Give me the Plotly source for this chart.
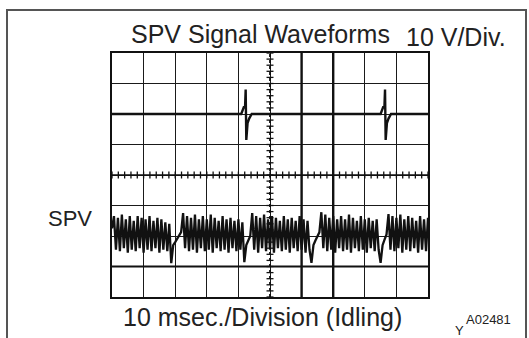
import numpy as np
import plotly.graph_objects as go

W, H = 529, 338

# ---- data (time in ms, amplitude in divisions; 10 V/div) ----
top_t = [0, 40.9, 41.8, 42.1, 42.3, 42.5, 42.9, 43.4, 44.2, 85.0, 85.9, 86.2, 86.4, 86.6, 87.0, 87.5, 88.3, 100]
top_v = [2.0, 2.0, 2.25, 2.2, 2.8, 1.15, 1.7, 1.85, 2.0, 2.0, 2.25, 2.2, 2.8, 1.15, 1.7, 1.85, 2.0, 2.0]

spv_step_ms = 0.625
spv_v = [
    -1.75, -1.35, -2.45, -1.40, -2.50, -1.30, -2.40, -1.45, -2.55, -1.35,
    -2.45, -1.50, -2.50, -1.35, -2.40, -1.40, -2.55, -1.45, -2.45, -1.35,
    -2.50, -1.50, -2.40, -1.40, -2.55, -1.45, -2.45, -1.55, -2.50, -1.60,
    -2.89, -2.30, -2.20, -2.08, -1.97, -1.87,
    -1.25, -2.40, -1.35, -2.50, -1.40, -2.45, -1.30, -2.55, -1.45, -2.40,
    -1.35, -2.50, -1.45, -2.45, -1.30, -2.55, -1.40, -2.40, -1.50, -2.50,
    -1.35, -2.45, -1.45, -2.55, -1.40, -2.40, -1.50, -2.50, -1.45, -2.45,
    -1.55,
    -2.86, -2.30, -2.15, -2.00,
    -1.25, -2.45, -1.35, -2.55, -1.40, -2.40, -1.30, -2.50, -1.45, -2.45,
    -1.35, -2.55, -1.40, -2.40, -1.50, -2.50, -1.35, -2.45, -1.45, -2.55,
    -1.40, -2.40, -1.50, -2.50, -1.35, -2.45, -1.45, -2.55, -1.50, -2.45,
    -2.88, -2.30, -2.15, -2.00, -1.88,
    -1.22, -2.40, -1.30, -2.50, -1.40, -2.45, -1.35, -2.55, -1.45, -2.40,
    -1.35, -2.50, -1.45, -2.45, -1.30, -2.55, -1.40, -2.40, -1.50, -2.50,
    -1.35, -2.45, -1.45, -2.55, -1.40, -2.40, -1.50, -2.50, -1.45, -2.45,
    -2.88, -2.30, -2.12, -1.95,
    -1.28, -2.45, -1.35, -2.50, -1.40, -2.40, -1.30, -2.55, -1.45, -2.45,
    -1.35, -2.50, -1.40, -2.40, -1.50, -2.55, -1.35, -2.45, -1.45, -2.50,
    -1.40,
]
spv_t = np.arange(len(spv_v)) * spv_step_ms

x_divs = 10   # 10 ms / div
y_divs = 8

# ---- layout geometry (pixels) ----
gx0, gx1, gy0, gy1 = 112, 428, 53, 297
def px(x): return x / W
def py(y): return 1 - y / H

fig = go.Figure()
fig.add_trace(go.Scatter(x=top_t, y=top_v, mode="lines",
                         line=dict(color="#111", width=2.4), hoverinfo="skip"))
fig.add_trace(go.Scatter(x=spv_t, y=spv_v, mode="lines",
                         line=dict(color="#111", width=2.3), hoverinfo="skip"))

# centre graticule tick marks (decoration)
hx = np.arange(0, 100.01, 2.0)
fig.add_trace(go.Scatter(x=hx, y=[0] * len(hx), mode="markers",
                         marker=dict(symbol="line-ns", size=5, line=dict(color="#111", width=1.3)),
                         hoverinfo="skip"))
vy = np.arange(-4, 4.01, 0.2)
fig.add_trace(go.Scatter(x=[50] * len(vy), y=vy, mode="markers",
                         marker=dict(symbol="line-ew", size=5, line=dict(color="#111", width=1.3)),
                         hoverinfo="skip"))

shapes = []
# outer frame
shapes.append(dict(type="rect", xref="paper", yref="paper",
                   x0=px(7), x1=px(526), y0=py(10), y1=py(360),
                   line=dict(color="#555", width=2)))
# heavier graticule lines
for xv in [60, 70]:
    shapes.append(dict(type="line", xref="x", yref="y", x0=xv, x1=xv, y0=-4, y1=4,
                       line=dict(color="#111", width=2.4)))
shapes.append(dict(type="line", xref="x", yref="y", x0=0, x1=100, y0=-3, y1=-3,
                   line=dict(color="#111", width=1.8)))
shapes.append(dict(type="line", xref="x", yref="y", x0=0, x1=100, y0=0, y1=0,
                   line=dict(color="#111", width=1.6)))
shapes.append(dict(type="line", xref="x", yref="y", x0=50, x1=50, y0=-4, y1=4,
                   line=dict(color="#111", width=1.8, dash="dot")))

font = "Liberation Sans, Arial, Helvetica, sans-serif"
ann = [
    dict(text="SPV Signal Waveforms", x=px(260), y=py(34), size=25),
    dict(text="10 V/Div.", x=px(456), y=py(37), size=25),
    dict(text="SPV", x=px(70), y=py(218), size=22),
    dict(text="10 msec./Division (Idling)", x=px(262), y=py(317), size=25),
    dict(text="A02481", x=px(488), y=py(319), size=13),
    dict(text="Y", x=px(459), y=py(330), size=13),
]
annotations = [dict(text=a["text"], x=a["x"], y=a["y"], xref="paper", yref="paper",
                    xanchor="center", yanchor="middle", showarrow=False,
                    font=dict(family=font, size=a["size"], color="#222")) for a in ann]

fig.update_layout(
    width=W, height=H, margin=dict(l=0, r=0, t=0, b=0),
    paper_bgcolor="white", plot_bgcolor="white", showlegend=False,
    shapes=shapes, annotations=annotations,
    xaxis=dict(domain=[px(gx0), px(gx1)], range=[0, 100], dtick=100 / x_divs, tick0=0,
               showgrid=True, gridcolor="#1a1a1a", gridwidth=1.4, zeroline=False,
               showline=True, mirror=True, linecolor="#111", linewidth=2,
               showticklabels=False, ticks="", fixedrange=True),
    yaxis=dict(domain=[1 - gy1 / H, 1 - gy0 / H], range=[-4, 4], dtick=1, tick0=0,
               showgrid=True, gridcolor="#1a1a1a", gridwidth=1.4, zeroline=False,
               showline=True, mirror=True, linecolor="#111", linewidth=2,
               showticklabels=False, ticks="", fixedrange=True),
)

fig.write_html("out.html", config={"displayModeBar": False},
               post_script="document.body.style.margin='0';document.body.style.overflow='hidden';")
